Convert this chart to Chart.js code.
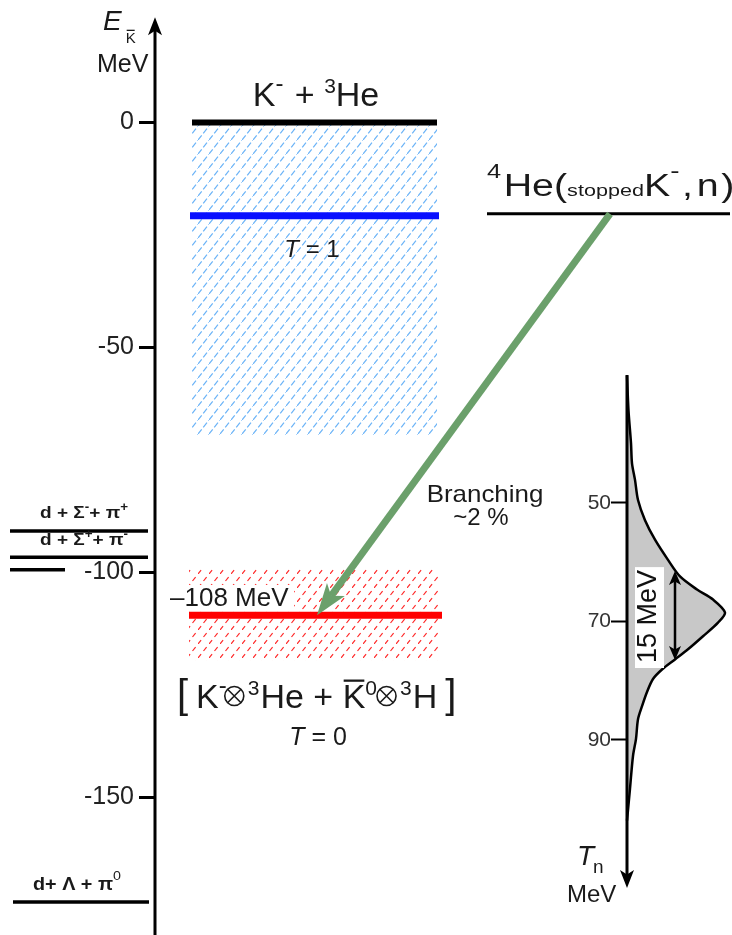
<!DOCTYPE html>
<html>
<head>
<meta charset="utf-8">
<style>
  html, body { margin: 0; padding: 0; background: #fff; }
  canvas { display: block; }
</style>
<script src="https://cdn.jsdelivr.net/npm/chart.js@4.4.1/dist/chart.umd.min.js"></script>
</head>
<body>
<canvas id="diagram" width="732" height="935"></canvas>
<script>
// K-bar energies relative to the K- + 3He threshold (MeV)
const thresholdE = 0;
const t1Level = -20.7;          // T = 1
const t1Band = [0, -69.5];
const t0Level = -109.5;         // T = 0, "-108 MeV"
const t0Band = [-99, -119.5];
const reactionLevel = -20.3;    // 4He(stopped K-, n)
const decayE = [-90.8, -96.6, -99.4, -173.2];  // d+Σ-+π+, d+Σ+ +π-, (unlabelled), d+Λ+π0
const eTicks = [0, -50, -100, -150];

// neutron kinetic energy spectrum (MeV, arbitrary counts)
const tnValues = [28.5, 34.4, 39.9, 43.3, 46.1, 49.5, 52.9, 56.2, 59.6, 62.4, 64.6, 66.3, 68.5,
                  70.2, 72.5, 74.7, 76.4, 78.1, 79.7, 81.9, 84.3, 86.5, 89.8, 92.7, 98.2, 103.6];
const tnCounts = [0, 1.5, 4, 5, 8, 11, 18, 28, 41, 53, 70, 86, 98,
                  91, 76, 61, 48, 35, 26, 20, 15, 11, 9, 6, 3, 0];
const tnTicks = [50, 70, 90];
const peakTn = 69;
const fwhm = 15;

// layout (x in page units)
const L = {
  axisX: 155, tnAxisX: 627, tickLen: 16,
  axisTopE: 23.4, tnTop: 28.4, tnEnd: 115,
  thresholdX: [192, 437], t1X: [190, 439], band1X: [192, 437],
  t0X: [189, 442], band0X: [189, 440], reactionX: [487, 730],
  decayX: [[10, 148], [10, 148], [10, 65], [13, 149]],
  arrowFromX: 610, arrowToX: 317, fwhmAt: 48
};

const FONT = '"Liberation Sans", Arial, Helvetica, sans-serif';
const GREEN = '#6ba06b';

function hatch(color, dash, w, h) {
  const c = document.createElement('canvas');
  c.width = w; c.height = h;
  const g = c.getContext('2d');
  g.strokeStyle = color;
  g.lineWidth = 1.2;
  g.setLineDash(dash);
  g.beginPath(); g.moveTo(0, h); g.lineTo(w, 0); g.stroke();
  return g.createPattern(c, 'repeat');
}
const bluePat = hatch('rgba(70,160,245,0.8)', [6, 2.5], 11, 14);
const redPat = hatch('rgba(255,30,30,0.95)', [5, 3.9], 11, 14);

function P(t, s, o) { return Object.assign({ t, s }, o || {}); }
// run of text pieces; a piece with `circ` is drawn as a circled times sign of that radius
function rich(ctx, parts, x, y, align, sx) {
  sx = sx || 1;
  ctx.save();
  ctx.translate(x, y);
  ctx.scale(sx, 1);
  const fontOf = p => (p.it ? 'italic ' : '') + (p.b ? 'bold ' : '') + p.s + 'px ' + (p.f || FONT);
  let total = 0;
  parts.forEach(p => {
    ctx.font = fontOf(p);
    p.tw = p.circ ? p.circ * 2 + 2 : ctx.measureText(p.t).width;
    total += p.tw + (p.gap || 0);
  });
  let cx = align === 'center' ? -total / 2 : align === 'right' ? -total : 0;
  ctx.textAlign = 'left';
  ctx.textBaseline = 'alphabetic';
  parts.forEach(p => {
    ctx.font = fontOf(p);
    const dy = p.dy || 0;
    if (p.circ) {
      const r = p.circ, ccx = cx + 1 + r, ccy = dy, d = r * 0.7071;
      ctx.save();
      ctx.strokeStyle = ctx.fillStyle;
      ctx.lineWidth = 1.6;
      ctx.beginPath(); ctx.arc(ccx, ccy, r, 0, Math.PI * 2); ctx.stroke();
      ctx.beginPath();
      ctx.moveTo(ccx - d, ccy - d); ctx.lineTo(ccx + d, ccy + d);
      ctx.moveTo(ccx + d, ccy - d); ctx.lineTo(ccx - d, ccy + d);
      ctx.stroke();
      ctx.restore();
    } else {
      ctx.fillText(p.t, cx, dy);
      if (p.bar) ctx.fillRect(cx + 1, dy - p.s * 0.72 - p.bar, p.tw - 2, Math.max(1.3, p.s / 15));
    }
    cx += p.tw + (p.gap || 0);
  });
  ctx.restore();
}

function arrowHead(ctx, x, y, ux, uy, len, half) {
  const bx = x - ux * len, by = y - uy * len, nx = -uy, ny = ux;
  ctx.beginPath();
  ctx.moveTo(x, y);
  ctx.lineTo(bx + nx * half, by + ny * half);
  ctx.lineTo(x - ux * len * 0.75, y - uy * len * 0.75);
  ctx.lineTo(bx - nx * half, by - ny * half);
  ctx.closePath();
  ctx.fill();
}

const diagram = {
  id: 'diagram',
  afterDatasetsDraw(chart) {
    const ctx = chart.ctx, s = chart.scales;
    const px = v => s.x.getPixelForValue(v);
    const py = v => s.y.getPixelForValue(v);
    const pn = v => s.xN.getPixelForValue(v);
    const pt = v => s.yT.getPixelForValue(v);
    ctx.save();
    ctx.fillStyle = '#000';
    ctx.strokeStyle = '#000';

    // energy axis
    const ax = px(L.axisX);
    ctx.lineWidth = 3;
    ctx.beginPath(); ctx.moveTo(ax, py(L.axisTopE) + 12); ctx.lineTo(ax, chart.height); ctx.stroke();
    arrowHead(ctx, ax, py(L.axisTopE), 0, -1, 18, 7);

    // Tn axis
    const tx = px(L.tnAxisX);
    ctx.beginPath(); ctx.moveTo(tx, pt(L.tnTop)); ctx.lineTo(tx, pt(L.tnEnd) - 12); ctx.stroke();
    arrowHead(ctx, tx, pt(L.tnEnd), 0, 1, 18, 7);

    // green arrow
    const a0x = px(L.arrowFromX), a0y = py(reactionLevel);
    const a1x = px(L.arrowToX), a1y = py(t0Level);
    const len = Math.hypot(a1x - a0x, a1y - a0y);
    const ux = (a1x - a0x) / len, uy = (a1y - a0y) / len;
    ctx.strokeStyle = GREEN; ctx.fillStyle = GREEN; ctx.lineWidth = 7;
    ctx.beginPath(); ctx.moveTo(a0x, a0y); ctx.lineTo(a1x - ux * 24, a1y - uy * 24); ctx.stroke();
    arrowHead(ctx, a1x, a1y, ux, uy, 32, 11);

    // FWHM marker
    const fx = pn(L.fwhmAt), fA = pt(peakTn - fwhm / 2), fB = pt(peakTn + fwhm / 2);
    ctx.fillStyle = '#fff';
    ctx.fillRect(pn(8), fA - 4, 29, fB - fA + 12);
    ctx.strokeStyle = '#000'; ctx.fillStyle = '#000'; ctx.lineWidth = 2.5;
    ctx.beginPath(); ctx.moveTo(fx, fA + 10); ctx.lineTo(fx, fB - 10); ctx.stroke();
    arrowHead(ctx, fx, fA, 0, -1, 14, 6);
    arrowHead(ctx, fx, fB, 0, 1, 14, 6);
    ctx.save();
    ctx.translate(pn(22), pt(peakTn) + 1);
    ctx.rotate(-Math.PI / 2);
    ctx.fillStyle = '#111';
    ctx.font = '27px ' + FONT;
    ctx.textAlign = 'center';
    ctx.textBaseline = 'middle';
    ctx.fillText(fwhm + ' MeV', 0, 0);
    ctx.restore();

    // text
    ctx.fillStyle = '#1a1a1a';
    rich(ctx, [P('E', 28, { it: true, gap: 4 }), P('K', 15, { dy: 13, bar: 2.5 })], 103, 30, 'left');
    rich(ctx, [P('MeV', 25)], 97, 72, 'left');

    rich(ctx, [P('K', 34), P('-', 24, { dy: -15, gap: 2 }), P(' + ', 34), P('3', 21, { dy: -13 }), P('He', 34)],
      316, py(thresholdE) - 17, 'center');
    rich(ctx, [P('T', 24, { it: true }), P(' = 1', 24)], 312, py(t1Level) + 41, 'center');

    rich(ctx, [P('4', 20, { dy: -18, gap: 2 }), P('He', 31), P('(', 31), P('stopped', 17), P('K', 31),
      P('-', 22, { dy: -18, gap: 2 }), P(',', 31, { gap: 3 }), P('n', 31, { gap: 2 }), P(')', 31)],
      487, py(reactionLevel) - 18, 'left', 1.27);

    rich(ctx, [P('Branching', 24)], 485, 502, 'center', 1.08);
    rich(ctx, [P('~2 %', 24)], 481, 525, 'center');

    ctx.fillStyle = '#fff';
    ctx.fillRect(168, 585, 126, 25);
    ctx.fillStyle = '#1a1a1a';
    rich(ctx, [P('\u2013108 MeV', 26)], 170, py(t0Level) - 9, 'left');

    rich(ctx, [P('[', 40, { gap: 8 }), P('K', 34), P('-', 24, { dy: -15, gap: -3 }), P('', 34, { circ: 9.5, dy: -12, gap: 3 }),
      P('3', 21, { dy: -13, gap: 1 }), P('He', 34), P(' + ', 34), P('K', 34, { bar: 4 }), P('0', 21, { dy: -13, gap: -1 }),
      P('', 34, { circ: 9.5, dy: -12, gap: 3 }), P('3', 21, { dy: -13, gap: 1 }), P('H', 34, { gap: 8 }), P(']', 40)],
      177, 708, 'left');
    rich(ctx, [P('T', 25, { it: true }), P(' = 0', 25)], 318, 745, 'center');

    rich(ctx, [P('d + \u03a3', 17, { b: true }), P('-', 12, { b: true, dy: -7 }), P('+ \u03c0', 17, { b: true }),
      P('+', 12, { b: true, dy: -7 })], 40, py(decayE[0]) - 13, 'left', 1.12);
    rich(ctx, [P('d + \u03a3', 17, { b: true }), P('+', 12, { b: true, dy: -7 }), P('+ \u03c0', 17, { b: true }),
      P('-', 12, { b: true, dy: -7 })], 40, py(decayE[1]) - 12, 'left', 1.12);
    rich(ctx, [P('d+ \u039b + \u03c0', 18, { b: true }), P('0', 13, { dy: -10 })],
      33, py(decayE[3]) - 12, 'left', 1.1);

    rich(ctx, [P('T', 28, { it: true, gap: -1 }), P('n', 19, { dy: 8 })], 577, 865, 'left');
    rich(ctx, [P('MeV', 24)], 567, 902, 'left');
    ctx.restore();
  }
};

const seg = (xr, e) => [{ x: xr[0], y: e }, { x: xr[1], y: e }];
const rect = (xr, er) => [{ x: xr[0], y: er[0] }, { x: xr[1], y: er[0] }, { x: xr[1], y: er[1] }, { x: xr[0], y: er[1] }];
const lineDs = (data, color, w) => ({ data, borderColor: color, borderWidth: w, pointRadius: 0, fill: false, order: 1, clip: false, borderCapStyle: 'butt' });

const datasets = [
  { data: rect(L.band1X, t1Band), fill: 'shape', backgroundColor: bluePat, borderColor: 'rgba(0,0,0,0)', borderWidth: 0, pointRadius: 0, order: 10 },
  { data: rect(L.band0X, t0Band), fill: 'shape', backgroundColor: redPat, borderColor: 'rgba(0,0,0,0)', borderWidth: 0, pointRadius: 0, order: 10 },
  { data: tnValues.map((t, i) => ({ x: tnCounts[i], y: t })), xAxisID: 'xN', yAxisID: 'yT',
    fill: 'shape', backgroundColor: '#c8c8c8', borderColor: '#000', borderWidth: 2.5, tension: 0.3, pointRadius: 0, order: 5, clip: false },
  lineDs(seg(L.thresholdX, thresholdE), '#000', 6),
  lineDs(seg(L.t1X, t1Level), '#0a10ff', 7),
  lineDs(seg(L.t0X, t0Level), '#ff0000', 7),
  lineDs(seg(L.reactionX, reactionLevel), '#000', 3),
  ...decayE.map((e, i) => lineDs(seg(L.decayX[i], e), '#000', 3.5))
];

// positioned axes put their labels right at the anchor, so anchor at the tick's outer end
// and let the (negative) tick length run back to the axis line
new Chart(document.getElementById('diagram'), {
  type: 'line',
  data: { datasets },
  options: {
    responsive: false,
    animation: false,
    devicePixelRatio: 1,
    events: [],
    layout: { padding: { top: 20, bottom: 20, left: 0, right: 0 }, autoPadding: false },
    plugins: { legend: { display: false }, tooltip: { enabled: false } },
    scales: {
      x: { type: 'linear', min: 0, max: 732, display: false },
      xN: { type: 'linear', axis: 'x', min: -627, max: 105, display: false },
      y: {
        type: 'linear', position: { x: L.axisX - L.tickLen }, min: -176.11, max: 22.78,
        afterBuildTicks: sc => { sc.ticks = eTicks.map(v => ({ value: v })); },
        border: { display: false },
        grid: { drawOnChartArea: false, drawTicks: true, tickLength: -L.tickLen, tickWidth: 3, tickColor: '#000' },
        ticks: { font: { size: 25, family: FONT }, color: '#222', autoSkip: false, callback: v => v + '\u2009' }
      },
      yT: {
        type: 'linear', axis: 'y', reverse: true, position: { x: L.tnAxisX - L.tickLen }, min: -31.52, max: 119.54,
        afterBuildTicks: sc => { sc.ticks = tnTicks.map(v => ({ value: v })); },
        border: { display: false },
        grid: { drawOnChartArea: false, drawTicks: true, tickLength: -L.tickLen, tickWidth: 2, tickColor: '#000' },
        ticks: { font: { size: 21, family: FONT }, color: '#333', autoSkip: false }
      }
    }
  },
  plugins: [diagram]
});
</script>
</body>
</html>
